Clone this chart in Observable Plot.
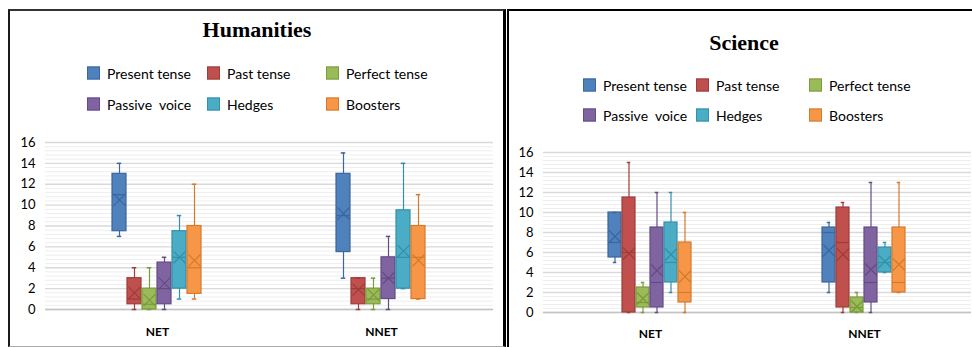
<!DOCTYPE html>
<html><head><meta charset="utf-8">
<script src="https://cdn.jsdelivr.net/npm/d3@7"></script>
<script src="https://cdn.jsdelivr.net/npm/@observablehq/plot@0.6"></script>
<style>
body{margin:0;background:#fff;color:#000;}
#page{position:relative;width:972px;height:347px;overflow:hidden;background:#fff;font-family:Lato,"Open Sans",sans-serif;}
.panel{position:absolute;box-sizing:border-box;}
#humPanel{left:8px;top:9px;width:498px;height:338px;border-left:2px solid #1a1a1a;border-top:2px solid #333;border-right:3px solid #000;border-bottom:1px solid #aaa;}
#sciPanel{left:507px;top:9px;width:465px;height:338px;border-left:2px solid #000;border-top:2px solid #000;}
.title{position:absolute;font-family:"Liberation Serif",serif;font-weight:bold;font-size:22px;transform:translate(-50%,-50%);white-space:nowrap;color:#000}
.leg{position:absolute;display:flex;align-items:center;font-size:14px;color:#000;transform:translateY(-50%);white-space:pre}
.sw{width:13px;height:13px;box-sizing:border-box;margin-right:7px;border:1px solid}
.chart{position:absolute}
.chart svg{overflow:visible;font-family:Lato,"Open Sans",sans-serif;}
.chart svg [aria-label="fx-axis tick label"] text{font-weight:bold}
</style>
</head>
<body>
<div id="page">
  <div class="panel" id="humPanel"></div>
  <div class="panel" id="sciPanel"></div>
</div>
<script>
// ---------- data ----------
const categories = ["NET", "NNET"];
const series = ["Present tense", "Past tense", "Perfect tense", "Passive  voice", "Hedges", "Boosters"];
const fills = ["#4F81BD", "#C0504D", "#9BBB59", "#8064A2", "#4BACC6", "#F79646"];
const lines = ["#3A679C", "#9B3D3A", "#7A9A3E", "#634C83", "#348FA8", "#D37A2F"];
const yTicks = [0, 2, 4, 6, 8, 10, 12, 14, 16];

// Humanities
const humNetMin  = [7, 0, 0, 0, 1, 1];
const humNetQ1   = [7.5, 0.5, 0, 0.5, 2, 1.5];
const humNetMed  = [11, 1, 0.5, 2, 5, 4];
const humNetQ3   = [13, 3, 2, 4.5, 7.5, 8];
const humNetMax  = [14, 4, 4, 5, 9, 12];
const humNetMean = [10.5, 1.6, 0.9, 2.5, 5, 4.7];

const humNnetMin  = [3, 0, 0, 0, 2, 1];
const humNnetQ1   = [5.5, 0.5, 0.5, 1, 2, 1];
const humNnetMed  = [9, 2, 1, 3, 5, 5];
const humNnetQ3   = [13, 3, 2, 5, 9.5, 8];
const humNnetMax  = [15, 3, 3, 7, 14, 11];
const humNnetMean = [9.2, 1.9, 1.4, 3, 5.6, 4.7];

// Science
const sciNetMin  = [5, 0, 0, 0, 2, 0];
const sciNetQ1   = [5.5, 0, 0.5, 0.5, 3, 1];
const sciNetMed  = [7, 6, 1, 3, 5, 2];
const sciNetQ3   = [10, 11.5, 2.5, 8.5, 9, 7];
const sciNetMax  = [10, 15, 3, 12, 12, 10];
const sciNetMean = [7.6, 5.9, 1.4, 4.2, 5.8, 3.6];

const sciNnetMin  = [2, 0, 0, 0, 4, 2];
const sciNnetQ1   = [3, 0.5, 0, 1, 4, 2];
const sciNnetMed  = [8, 7, 0.5, 3, 5, 3];
const sciNnetQ3   = [8.5, 10.5, 1.5, 8.5, 6.5, 8.5];
const sciNnetMax  = [9, 11, 2, 13, 7, 13];
const sciNnetMean = [6.2, 5.8, 0.6, 4.3, 5.1, 4.8];

// ---------- build rows ----------
function rowsFor(cat, mn, q1, md, q3, mx, me) {
  return series.map((s, i) => ({cat, series: s, min: mn[i], q1: q1[i], med: md[i], q3: q3[i], max: mx[i], mean: me[i], fill: fills[i], line: lines[i]}));
}
const humRows = [
  ...rowsFor("NET", humNetMin, humNetQ1, humNetMed, humNetQ3, humNetMax, humNetMean),
  ...rowsFor("NNET", humNnetMin, humNnetQ1, humNnetMed, humNnetQ3, humNnetMax, humNnetMean)
];
const sciRows = [
  ...rowsFor("NET", sciNetMin, sciNetQ1, sciNetMed, sciNetQ3, sciNetMax, sciNetMean),
  ...rowsFor("NNET", sciNnetMin, sciNnetQ1, sciNnetMed, sciNnetQ3, sciNnetMax, sciNnetMean)
];
const minorTicks = d3.range(1, 40).filter(i => i % 5 !== 0).map(i => i * 0.4);

function chart(rows, {width, height, marginLeft, marginRight, marginTop, marginBottom, fxPad}) {
  const ch = {fx: "cat", x: "series"};
  return Plot.plot({
    width, height, marginLeft, marginRight, marginTop, marginBottom,
    fx: {domain: categories, padding: 0, label: null, axis: null},
    x: {domain: series, paddingInner: 0.065, paddingOuter: 4.25, axis: null},
    y: {domain: [0, 16], axis: null},
    color: {type: "identity"},
    style: {fontFamily: "Lato, 'Open Sans', sans-serif", background: "transparent", color: "#000"},
    marks: [
      Plot.gridY({ticks: minorTicks, stroke: "#eeeeee", strokeOpacity: 1}),
      Plot.gridY({ticks: yTicks, stroke: "#d9d9d9", strokeOpacity: 1, strokeWidth: 1.4}),
      Plot.ruleY([0], {stroke: "#c4c4c4", strokeWidth: 1.5}),
      Plot.axisY({ticks: yTicks, tickSize: 0, tickPadding: 10, fontSize: 13, label: null, line: true, stroke: "#d9d9d9"}),
      Plot.axisFx({anchor: "bottom", tickSize: 0, tickPadding: fxPad, fontSize: 12, fontWeight: "bold", label: null}),
      Plot.ruleX(rows, {...ch, y1: "min", y2: "max", stroke: "line", strokeWidth: 1.2}),
      Plot.barY(rows, {...ch, y1: "q1", y2: "q3", fill: "fill", stroke: "line", strokeWidth: 1.2}),
      Plot.tickY(rows, {...ch, y: "max", stroke: "line", strokeWidth: 1.5, insetLeft: 4.75, insetRight: 4.75}),
      Plot.tickY(rows, {...ch, y: "min", stroke: "line", strokeWidth: 1.5, insetLeft: 4.75, insetRight: 4.75}),
      Plot.tickY(rows, {...ch, y: "med", stroke: "line", strokeWidth: 1.2}),
      Plot.dot(rows, {...ch, y: "mean", symbol: "times", r: 5.5, stroke: "line", strokeWidth: 1.2})
    ]
  });
}

const page = document.getElementById("page");
function place(el, left, top) {
  const d = document.createElement("div");
  d.className = "chart";
  d.style.left = left + "px";
  d.style.top = top + "px";
  d.appendChild(el);
  page.appendChild(d);
}
place(chart(humRows, {width: 500, height: 217, marginLeft: 45, marginRight: 7, marginTop: 12, marginBottom: 38, fxPad: 18}), 0, 130);
place(chart(sciRows, {width: 464, height: 207, marginLeft: 34, marginRight: 1, marginTop: 12, marginBottom: 35, fxPad: 17}), 508, 140);

function addTitle(text, cx, cy) {
  const t = document.createElement("div");
  t.className = "title";
  t.textContent = text;
  t.style.left = cx + "px";
  t.style.top = cy + "px";
  page.appendChild(t);
}
addTitle("Humanities", 257, 30);
addTitle("Science", 744, 43);

function addLegend(cols, rowsY) {
  series.forEach((s, i) => {
    const item = document.createElement("div");
    item.className = "leg";
    item.style.left = cols[i % 3] + "px";
    item.style.top = rowsY[Math.floor(i / 3)] + "px";
    const sw = document.createElement("span");
    sw.className = "sw";
    sw.style.background = fills[i];
    sw.style.borderColor = lines[i];
    const tx = document.createElement("span");
    tx.textContent = s;
    item.appendChild(sw);
    item.appendChild(tx);
    page.appendChild(item);
  });
}
addLegend([87, 207, 326], [73, 104]);
addLegend([583, 696, 809], [85, 115]);
</script>
</body></html>
